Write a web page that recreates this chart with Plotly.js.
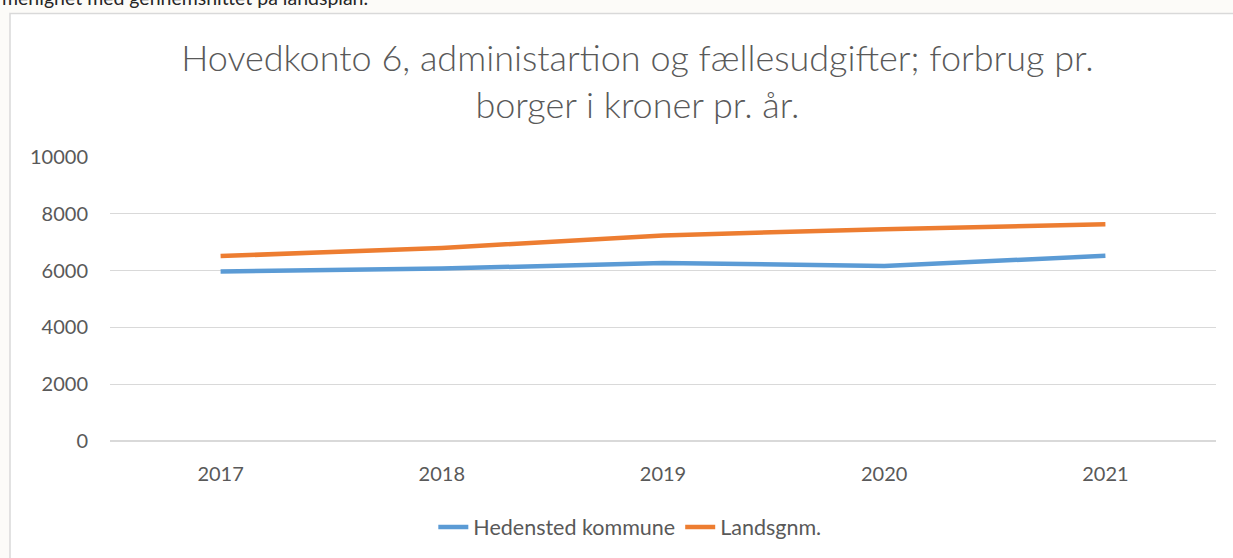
<!DOCTYPE html>
<html>
<head>
<meta charset="utf-8">
<script src="https://cdn.plot.ly/plotly-3.0.1.min.js"></script>
<style>
  html, body { margin: 0; padding: 0; background: #fcfbf8; }
  #chart { width: 1233px; height: 558px; }
</style>
</head>
<body>
<div id="chart"></div>
<script>
// data
var years = ["2017", "2018", "2019", "2020", "2021"];
var hedensted = [5970, 6070, 6270, 6160, 6520];
var landsgnm = [6510, 6800, 7240, 7460, 7630];
var seriesNames = ["Hedensted kommune", "Landsgnm."];

var grey = "#595959";

var traceHed = {
    x: years,
    y: hedensted,
    name: seriesNames[0],
    type: "scatter",
    mode: "lines",
    line: { color: "#5b9bd5", width: 4.5 }
};

var traceLand = {
    x: years,
    y: landsgnm,
    name: seriesNames[1],
    type: "scatter",
    mode: "lines",
    line: { color: "#ed7d31", width: 4.5 }
};

var layout = {
    width: 1233,
    height: 558,
    margin: { l: 110, r: 17, t: 157, b: 116 },
    paper_bgcolor: "#fcfbf8",
    plot_bgcolor: "rgba(0,0,0,0)",
    font: { family: "Lato, 'Open Sans', sans-serif", color: grey, size: 20 },
    title: {
        text: "Hovedkonto 6, administartion og fællesudgifter; forbrug pr.<br>borger i kroner pr. år.",
        font: { size: 36, color: grey, weight: 300 },
        xref: "container",
        x: 0.517,
        xanchor: "center",
        yref: "container",
        y: 1 - 71 / 558,
        yanchor: "top"
    },
    xaxis: {
        type: "category",
        range: [-0.5, 4.5],
        showgrid: false,
        showline: false,
        zeroline: false,
        ticks: "",
        ticklabelstandoff: 19,
        tickfont: { size: 20, color: grey }
    },
    yaxis: {
        range: [0, 10000],
        dtick: 2000,
        tickformat: "d",
        showgrid: true,
        gridcolor: "#d9d9d9",
        gridwidth: 1.3,
        zeroline: true,
        zerolinecolor: "#d9d9d9",
        zerolinewidth: 1.3,
        ticks: "",
        ticklabelstandoff: 21,
        tickfont: { size: 20, color: grey }
    },
    showlegend: true,
    legend: {
        orientation: "h",
        x: 0.47,
        xanchor: "center",
        y: -0.298,
        yanchor: "middle",
        font: { size: 21.5, color: grey },
        bgcolor: "rgba(0,0,0,0)",
        itemwidth: 30,
        tracegroupgap: 0
    },
    shapes: [{
        type: "rect",
        xref: "paper",
        yref: "paper",
        x0: -100 / 1106,
        x1: 1.2,
        y0: -1,
        y1: (442 - 13) / 285,
        fillcolor: "#ffffff",
        line: { color: "#d9d9d9", width: 1.5 },
        layer: "below"
    }],
    annotations: [{
        text: "menighet med gennemsnittet på landsplan.",
        xref: "paper",
        yref: "paper",
        x: -110 / 1106,
        xanchor: "left",
        y: (442 + 3) / 285,
        yanchor: "middle",
        showarrow: false,
        font: { size: 19.5, color: "#262626" }
    }]
};

Plotly.newPlot("chart", [traceHed, traceLand], layout, { displayModeBar: false, staticPlot: true });
</script>
</body>
</html>
